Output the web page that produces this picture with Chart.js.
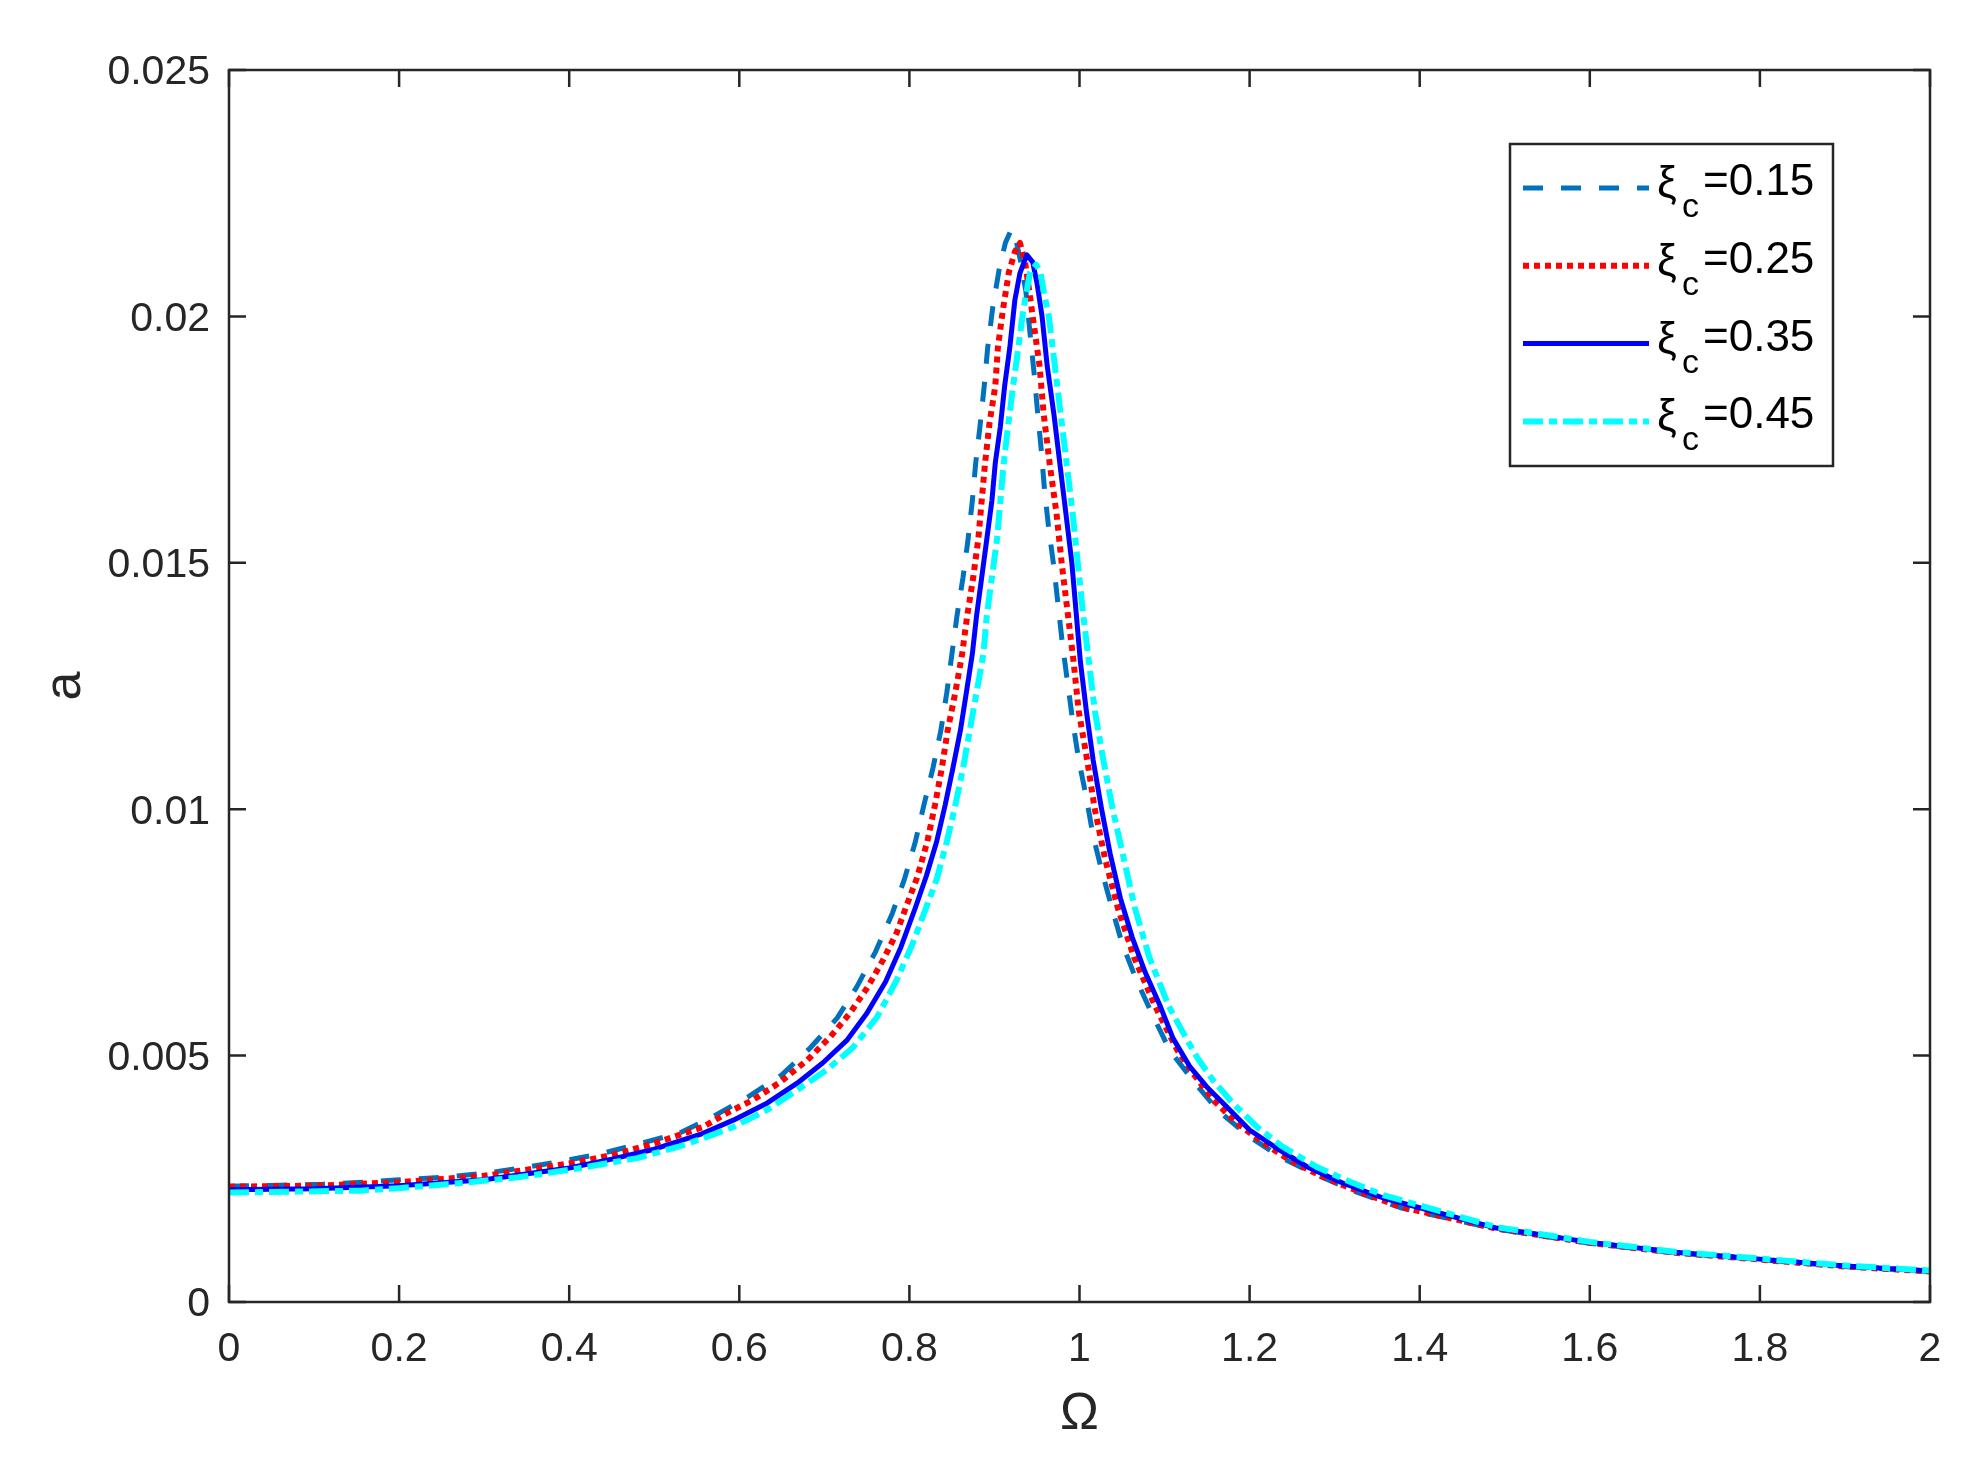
<!DOCTYPE html>
<html><head><meta charset="utf-8">
<script src="https://cdn.jsdelivr.net/npm/chart.js@4.4.1/dist/chart.umd.min.js"></script>
<style>html,body{margin:0;padding:0;background:#fff;overflow:hidden}#wrap{width:1968px;height:1472px;position:relative}</style>
</head><body><div id="wrap"><canvas id="c" width="1968" height="1472"></canvas></div>
<script>
// ---------------- data ----------------
const seriesNames = ['0.15', '0.25', '0.35', '0.45'];

const omegaA = [0,0.06,0.11,0.16,0.20,0.25,0.30,0.34,0.39,0.44,0.48,0.53,0.57,0.61,0.65,0.683,0.715,0.738,0.760,0.780,0.794,0.807,0.817,0.828,0.837,0.844,0.850,0.856,0.863,0.869,0.874,0.878,0.883,0.888,0.892,0.898,0.906,0.913,0.920,0.926,0.931,0.937,0.942,0.947,0.951,0.955,0.959,0.964,0.970,0.975,0.980,0.986,0.992,0.999,1.008,1.016,1.026,1.038,1.050,1.067,1.086,1.106,1.133,1.162,1.197,1.236,1.279,1.326,1.38,1.49,1.60,1.70,1.80,1.90,2.00];
const aA = [0.00235,0.00237,0.00239,0.00243,0.00248,0.00253,0.00261,0.00271,0.00285,0.00302,0.00320,0.00343,0.00377,0.00416,0.00461,0.00515,0.00576,0.00639,0.00710,0.00789,0.00857,0.00934,0.01008,0.01086,0.01160,0.01237,0.01315,0.01393,0.01470,0.01548,0.01626,0.01703,0.01777,0.01859,0.01936,0.02018,0.02100,0.02150,0.02177,0.02150,0.02110,0.02050,0.01963,0.01878,0.01800,0.01730,0.01645,0.01567,0.01490,0.01412,0.01334,0.01257,0.01179,0.01101,0.01024,0.00946,0.00876,0.00800,0.00728,0.00653,0.00582,0.00511,0.00450,0.00390,0.00339,0.00294,0.00258,0.00223,0.00190,0.00148,0.00119,0.00100,0.00086,0.00072,0.00062];

const omegaB = [0,0.10,0.20,0.30,0.40,0.45,0.50,0.557,0.586,0.616,0.648,0.680,0.707,0.730,0.751,0.769,0.785,0.797,0.809,0.821,0.830,0.838,0.845,0.854,0.862,0.868,0.875,0.881,0.885,0.889,0.894,0.901,0.904,0.910,0.917,0.924,0.930,0.936,0.941,0.945,0.953,0.958,0.965,0.973,0.979,0.986,0.993,0.999,1.009,1.018,1.030,1.045,1.064,1.089,1.115,1.133,1.157,1.185,1.216,1.247,1.286,1.333,1.38,1.49,1.60,1.70,1.80,1.90,2.00];
const aB = [0.00234,0.00236,0.00243,0.00256,0.00281,0.00298,0.00322,0.00355,0.00384,0.00410,0.00446,0.00491,0.00538,0.00586,0.00639,0.00694,0.00749,0.00806,0.00861,0.00934,0.01008,0.01082,0.01160,0.01237,0.01315,0.01393,0.01470,0.01548,0.01626,0.01703,0.01781,0.01859,0.01936,0.02014,0.02090,0.02131,0.02149,0.02110,0.02050,0.02000,0.01900,0.01800,0.01700,0.01600,0.01500,0.01400,0.01300,0.01200,0.01100,0.01000,0.00900,0.00800,0.00700,0.00600,0.00511,0.00465,0.00410,0.00363,0.00323,0.00288,0.00254,0.00221,0.00192,0.00149,0.00120,0.00100,0.00086,0.00072,0.00062];

const omegaC = [0,0.10,0.20,0.30,0.40,0.45,0.50,0.554,0.593,0.633,0.668,0.698,0.727,0.750,0.772,0.790,0.807,0.820,0.832,0.842,0.851,0.860,0.867,0.874,0.879,0.885,0.891,0.897,0.901,0.907,0.912,0.918,0.924,0.930,0.938,0.945,0.950,0.956,0.962,0.970,0.977,0.984,0.991,0.996,1.001,1.008,1.016,1.026,1.036,1.048,1.062,1.077,1.095,1.110,1.130,1.150,1.173,1.200,1.232,1.268,1.310,1.357,1.49,1.60,1.70,1.80,1.90,2.00];
const aC = [0.00228,0.00230,0.00236,0.00248,0.00272,0.00290,0.00310,0.00340,0.00369,0.00404,0.00444,0.00485,0.00532,0.00586,0.00650,0.00720,0.00800,0.00865,0.00934,0.01008,0.01082,0.01160,0.01237,0.01315,0.01393,0.01470,0.01548,0.01626,0.01703,0.01777,0.01859,0.01936,0.02033,0.02088,0.02125,0.02110,0.02068,0.02000,0.01900,0.01800,0.01700,0.01600,0.01500,0.01400,0.01300,0.01200,0.01100,0.01000,0.00910,0.00820,0.00740,0.00670,0.00600,0.00535,0.00477,0.00436,0.00396,0.00349,0.00312,0.00274,0.00241,0.00211,0.00150,0.00121,0.00101,0.00087,0.00073,0.00063];

const omegaD = [0,0.08,0.155,0.20,0.27,0.34,0.41,0.48,0.53,0.562,0.593,0.633,0.668,0.703,0.734,0.762,0.785,0.804,0.821,0.832,0.844,0.854,0.863,0.871,0.879,0.887,0.891,0.897,0.903,0.907,0.911,0.916,0.922,0.928,0.934,0.942,0.949,0.954,0.958,0.964,0.971,0.978,0.985,0.992,0.998,1.004,1.011,1.018,1.028,1.039,1.052,1.065,1.082,1.105,1.122,1.138,1.157,1.180,1.209,1.239,1.279,1.318,1.357,1.49,1.60,1.70,1.80,1.90,2.00];
const aD = [0.00222,0.00224,0.00226,0.00231,0.00241,0.00253,0.00271,0.00292,0.00316,0.00335,0.00355,0.00390,0.00430,0.00471,0.00517,0.00578,0.00653,0.00728,0.00806,0.00857,0.00934,0.01008,0.01082,0.01160,0.01237,0.01315,0.01393,0.01470,0.01548,0.01626,0.01703,0.01777,0.01859,0.01936,0.02014,0.02090,0.02105,0.02090,0.02050,0.02000,0.01900,0.01800,0.01700,0.01600,0.01500,0.01400,0.01300,0.01200,0.01100,0.01000,0.00900,0.00800,0.00700,0.00600,0.00546,0.00497,0.00450,0.00404,0.00355,0.00315,0.00274,0.00244,0.00217,0.00152,0.00122,0.00102,0.00088,0.00074,0.00064];

const xTickValues = [0,0.2,0.4,0.6,0.8,1,1.2,1.4,1.6,1.8,2];
const xTickLabels = ['0','0.2','0.4','0.6','0.8','1','1.2','1.4','1.6','1.8','2'];
const yTickValues = [0,0.005,0.01,0.015,0.02,0.025];
const yTickLabels = ['0','0.005','0.01','0.015','0.02','0.025'];

// ---------------- styles ----------------
const AXIS = '#262626';
const FONT = 'Liberation Sans, Arial, sans-serif';
const styles = [
  {color:'#0072BD', dash:[20,18], width:5, order:4},
  {color:'#FF0000', dash:[6,5],  width:6, order:3},
  {color:'#0000FF', dash:[],     width:5, order:2},
  {color:'#00FFFF', dash:[20,6,8,6], width:6, order:1}
];
const xs = [omegaA, omegaB, omegaC, omegaD];
const ys = [aA, aB, aC, aD];

const datasets = seriesNames.map((n, i) => ({
  label: n,
  data: xs[i].map((x, k) => ({x: x, y: ys[i][k]})),
  borderColor: styles[i].color,
  borderDash: styles[i].dash,
  borderWidth: styles[i].width,
  borderCapStyle: 'butt',
  borderJoinStyle: 'round',
  pointRadius: 0,
  tension: 0,
  fill: false,
  order: styles[i].order
}));

// frame + inward ticks on all four sides
const framePlugin = {
  id: 'frame',
  afterDatasetsDraw(chart) {
    const {ctx, chartArea: ca, scales} = chart;
    const tl = 17;
    ctx.save();
    ctx.strokeStyle = AXIS;
    ctx.lineWidth = 2.5;
    ctx.setLineDash([]);
    ctx.beginPath();
    xTickValues.forEach(v => {
      const px = scales.x.getPixelForValue(v);
      ctx.moveTo(px, ca.bottom); ctx.lineTo(px, ca.bottom - tl);
      ctx.moveTo(px, ca.top); ctx.lineTo(px, ca.top + tl);
    });
    yTickValues.forEach(v => {
      const py = scales.y.getPixelForValue(v);
      ctx.moveTo(ca.left, py); ctx.lineTo(ca.left + tl, py);
      ctx.moveTo(ca.right, py); ctx.lineTo(ca.right - tl, py);
    });
    ctx.stroke();
    ctx.lineCap = 'square';
    ctx.strokeRect(ca.left, ca.top, ca.right - ca.left, ca.bottom - ca.top);
    ctx.restore();
  }
};

// legend with subscripted labels
const legendPlugin = {
  id: 'subLegend',
  afterDraw(chart) {
    const ctx = chart.ctx;
    const box = {x: 1510, y: 144, w: 323, h: 322};
    ctx.save();
    ctx.fillStyle = '#fff';
    ctx.fillRect(box.x, box.y, box.w, box.h);
    ctx.strokeStyle = AXIS;
    ctx.lineWidth = 2.5;
    ctx.setLineDash([]);
    ctx.strokeRect(box.x, box.y, box.w, box.h);
    chart.data.datasets.forEach((ds, i) => {
      const ly = 188 + i * 77.8;
      ctx.save();
      ctx.strokeStyle = ds.borderColor;
      ctx.lineWidth = ds.borderWidth;
      ctx.lineCap = 'butt';
      ctx.setLineDash(ds.borderDash);
      ctx.beginPath();
      ctx.moveTo(1523, ly); ctx.lineTo(1649, ly);
      ctx.stroke();
      ctx.restore();
      const base = ly + 7;
      ctx.fillStyle = '#000';
      ctx.textBaseline = 'alphabetic';
      ctx.textAlign = 'left';
      ctx.font = '44px ' + FONT;
      ctx.fillText('ξ', 1657, base + 2);
      ctx.font = '34px ' + FONT;
      ctx.fillText('c', 1682, base + 22);
      ctx.font = '44px ' + FONT;
      ctx.fillText('=' + ds.label, 1703, base);
    });
    ctx.restore();
  }
};

new Chart(document.getElementById('c'), {
  type: 'line',
  data: {datasets},
  options: {
    responsive: false,
    devicePixelRatio: 1,
    animation: false,
    layout: {padding: {left: 0, top: 70, right: 38, bottom: 0}},
    plugins: {legend: {display: false}, tooltip: {enabled: false}},
    scales: {
      x: {
        type: 'linear', min: 0, max: 2,
        afterBuildTicks: s => { s.ticks = xTickValues.map(v => ({value: v})); },
        afterFit: s => { s.height = 170; },
        grid: {display: false, drawTicks: false},
        border: {display: false},
        ticks: {autoSkip: false, maxRotation: 0, padding: 23, color: AXIS,
          font: {family: FONT, size: 41},
          callback: (v, i) => xTickLabels[i]},
        title: {display: true, text: 'Ω', color: AXIS,
          font: {family: FONT, size: 52}, padding: {top: 0, bottom: 26}}
      },
      y: {
        type: 'linear', min: 0, max: 0.025,
        afterBuildTicks: s => { s.ticks = yTickValues.map(v => ({value: v})); },
        afterFit: s => { s.width = 229; },
        grid: {display: false, drawTicks: false},
        border: {display: false},
        ticks: {autoSkip: false, padding: 19, labelOffset: 3, color: AXIS,
          font: {family: FONT, size: 41},
          callback: (v, i) => yTickLabels[i]},
        title: {display: true, text: 'a', color: AXIS,
          font: {family: FONT, size: 52}, padding: {top: 34, bottom: 0}}
      }
    }
  },
  plugins: [framePlugin, legendPlugin]
});
</script></body></html>
